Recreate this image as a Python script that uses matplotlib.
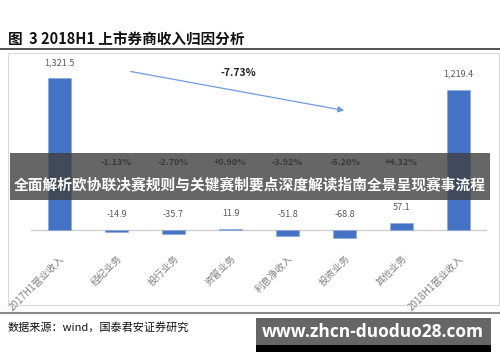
import matplotlib.pyplot as plt
from matplotlib.patches import Rectangle

plt.rcParams['font.family'] = ['Noto Sans CJK SC', 'DejaVu Sans']

# data
categories = ['2017H1营业收入', '经纪业务', '投行业务', '资管业务', '利息净收入',
              '投资业务', '其他业务', '2018H1营业收入']
values = [1321.5, -14.9, -35.7, 11.9, -51.8, -68.8, 57.1, 1219.4]
value_labels = ['1,321.5', '-14.9', '-35.7', '11.9', '-51.8', '-68.8', '57.1', '1,219.4']
pct_labels = ['', '-1.13%', '-2.70%', '+0.90%', '-3.92%', '-5.20%', '+4.32%', '']
total_change = '-7.73%'

W, H = 500, 362
fig = plt.figure(figsize=(5, 3.62), dpi=100)

def fx(px):
    return px / W

def fy(py):
    return 1 - py / H

# page decorations
fig.text(fx(8), fy(40), '图  3 2018H1 上市券商收入归因分析', fontsize=10.5,
         fontweight='bold', va='center', ha='left', color='#111111')
fig.add_artist(plt.Line2D([0, 1], [fy(49), fy(49)], color='#333333', lw=1.2))
fig.add_artist(Rectangle((fx(8), fy(305)), fx(491), 252 / H, fill=False,
                         edgecolor='#d9d9d9', lw=0.8))
fig.add_artist(plt.Line2D([0, 1], [fy(313), fy(313)], color='#888888', lw=1.5))
fig.text(fx(8), fy(327), '数据来源：wind，国泰君安证券研究', fontsize=8,
         va='center', ha='left', color='#111111')

# chart
ax = fig.add_axes([fx(31), fy(245), fx(456), 185 / H])
x = range(len(categories))
ax.bar(x, values, width=0.4, color='#4472C4', edgecolor='#8eaadb', lw=0.5, zorder=2)
for i, (v, lab) in enumerate(zip(values, value_labels)):
    ax.annotate(lab, (i, max(v, 0)), xytext=(0, 8), textcoords='offset points',
                ha='center', va='bottom', fontsize=6.5, color='#595959')
for i, p in enumerate(pct_labels):
    if p:
        ax.text(i, 583, p, ha='center', va='center', fontsize=6.5,
                fontweight='bold', color='#222222')
ax.set_xlim(-0.5, 7.5)
ax.set_ylim(-130, 1478)
ax.axhline(0, color='#d0d0d0', lw=1, zorder=1)
ax.set_xticks(list(x))
ax.set_xticklabels(categories, rotation=45, ha='right', rotation_mode='anchor',
                   fontsize=7, color='#7f7f7f')
ax.tick_params(axis='x', length=0, pad=6)
ax.set_yticks([])
for s in ax.spines.values():
    s.set_visible(False)
ax.patch.set_alpha(0)

# overall change arrow
ax.annotate('', xy=(fx(347), fy(111)), xytext=(fx(128), fy(71)),
            xycoords='figure fraction', textcoords='figure fraction',
            arrowprops=dict(arrowstyle='-|>', color='#6f9be0', lw=0.9,
                            mutation_scale=9))
fig.text(fx(238), fy(73), total_change, fontsize=7.5, fontweight='bold',
         ha='center', va='center', color='#222222')

# overlay banner
fig.add_artist(Rectangle((fx(10), fy(200)), fx(480), 47 / H,
                         facecolor='#404040', alpha=0.8, edgecolor='none', zorder=10))
fig.text(fx(250), fy(184), '全面解析欧协联决赛规则与关键赛制要点深度解读指南全景呈现赛事流程',
         fontsize=10.6, fontweight='bold', color='white', ha='center', va='center',
         zorder=11)

# watermark box
fig.add_artist(Rectangle((fx(256), fy(352)), fx(235), 34 / H,
                         facecolor='#000000', edgecolor='none', zorder=10))
fig.add_artist(Rectangle((fx(256), fy(345)), fx(235), 27 / H,
                         facecolor='#666666', edgecolor='none', zorder=10))
fig.text(fx(373), fy(332), 'www.zhcn-duoduo28.com', fontsize=12.5,
         fontweight='bold', color='white', ha='center', va='center', zorder=11,
         family=['Open Sans', 'DejaVu Sans'])

fig.savefig('out.png', dpi=100)
